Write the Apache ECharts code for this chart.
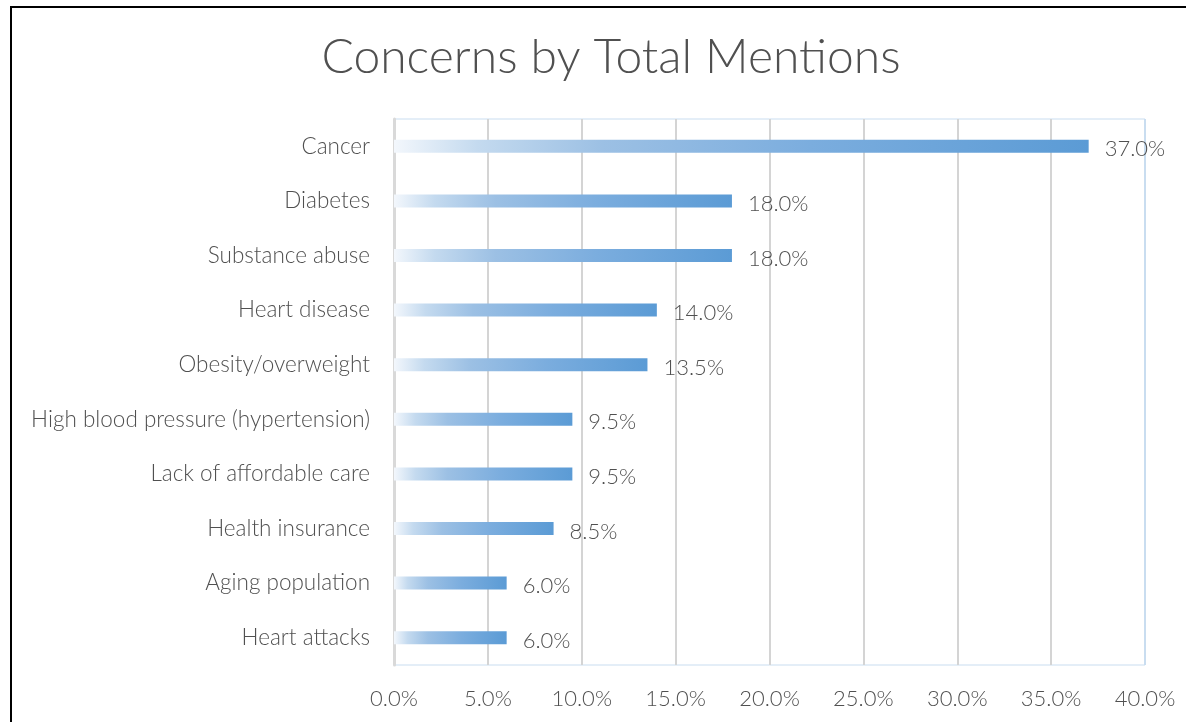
<!DOCTYPE html>
<html>
<head>
<meta charset="utf-8">
<script src="https://cdn.jsdelivr.net/npm/echarts@6/dist/echarts.min.js"></script>
<style>
html,body{margin:0;padding:0;background:#fff;}
#chart{width:1186px;height:722px;}
</style>
</head>
<body>
<div id="chart"></div>
<script>
const titleText = 'Concerns by Total Mentions';
const categories = [
  'Cancer',
  'Diabetes',
  'Substance abuse',
  'Heart disease',
  'Obesity/overweight',
  'High blood pressure (hypertension)',
  'Lack of affordable care',
  'Health insurance',
  'Aging population',
  'Heart attacks'
];
const values = [37.0, 18.0, 18.0, 14.0, 13.5, 9.5, 9.5, 8.5, 6.0, 6.0];
const xTicks = [0, 5, 10, 15, 20, 25, 30, 35, 40];

const font = 'Lato';
const chart = echarts.init(document.getElementById('chart'), null, {renderer: 'canvas'});
const grad = new echarts.graphic.LinearGradient(0, 0, 1, 0, [
  {offset: 0, color: '#f3f7fc'},
  {offset: 0.12, color: '#c4daef'},
  {offset: 0.3, color: '#9cc0e4'},
  {offset: 0.6, color: '#7badde'},
  {offset: 1, color: '#5b9bd5'}
]);
const splitColors = xTicks.map((t, i) => i === xTicks.length - 1 ? '#c9ddf0' : '#d4d4d4');

chart.setOption({
  animation: false,
  backgroundColor: '#fff',
  title: {
    text: titleText,
    left: 606,
    top: 29,
    textAlign: 'center',
    textStyle: {fontFamily: font, fontSize: 48, fontWeight: 300, color: '#505050'}
  },
  grid: {
    left: 394, right: 41, top: 119, bottom: 57,
    show: true, borderColor: '#c9ddf0', borderWidth: 1, backgroundColor: 'transparent'
  },
  xAxis: {
    type: 'value',
    min: xTicks[0], max: xTicks[xTicks.length - 1], interval: 5,
    axisLine: {show: false},
    axisTick: {show: false},
    splitLine: {show: true, lineStyle: {color: splitColors, width: 2}},
    axisLabel: {
      margin: 23,
      fontFamily: font, fontSize: 22, fontWeight: 300, color: '#505050',
      formatter: v => v.toFixed(1) + '%'
    }
  },
  yAxis: {
    type: 'category',
    data: categories,
    inverse: true,
    axisLine: {show: true, lineStyle: {color: '#d9d9d9', width: 3}},
    axisTick: {show: false},
    axisLabel: {margin: 24, fontFamily: font, fontSize: 22.5, fontWeight: 300, color: '#505050'}
  },
  series: [{
    type: 'bar',
    data: values,
    barWidth: 13,
    itemStyle: {color: grad},
    label: {
      show: true, position: 'right', distance: 16,
      fontFamily: font, fontSize: 22, fontWeight: 300, color: '#505050',
      offset: [0, 3],
      formatter: p => p.value.toFixed(1) + '%'
    }
  }],
  graphic: [{
    type: 'rect',
    shape: {x: 11, y: 7, width: 1300, height: 900},
    style: {fill: 'none', stroke: '#000', lineWidth: 2},
    silent: true
  }]
});
</script>
</body>
</html>
